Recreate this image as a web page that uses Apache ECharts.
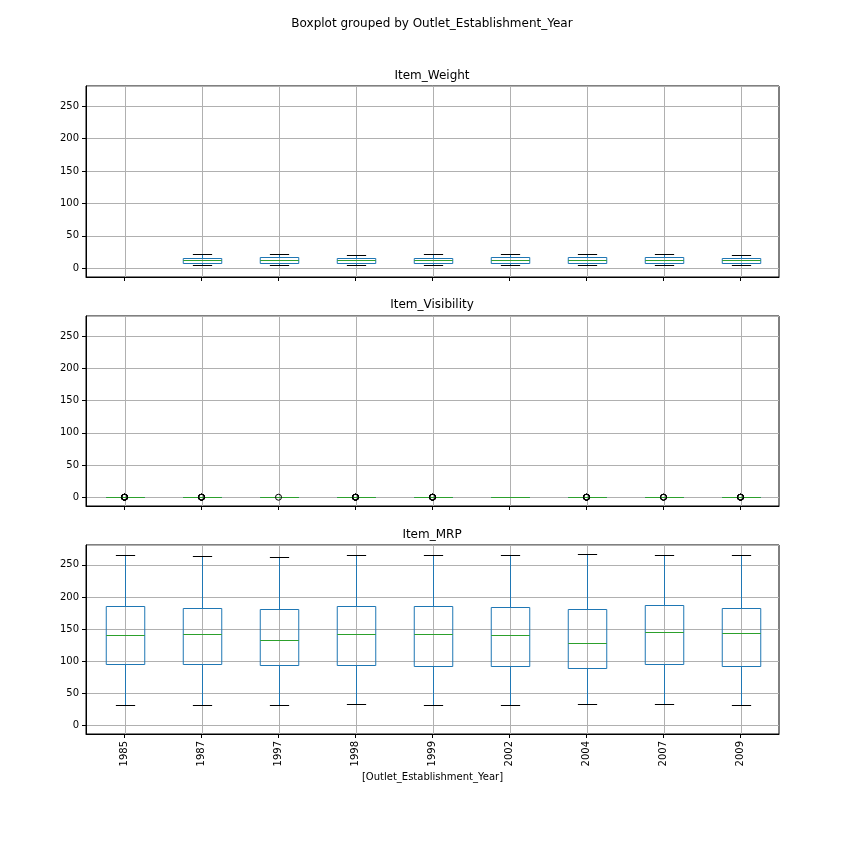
<!DOCTYPE html>
<html>
<head>
<meta charset="utf-8">
<script src="https://cdn.jsdelivr.net/npm/echarts@6/dist/echarts.min.js"></script>
<style>
html,body{margin:0;padding:0;background:#fff;}
#chart{width:864px;height:864px;}
</style>
</head>
<body>
<div id="chart"></div>
<script>
// ---- data ----
const years = ['1985','1987','1997','1998','1999','2002','2004','2007','2009'];
const panelTitles = ['Item_Weight','Item_Visibility','Item_MRP'];
const yTicks = [0,50,100,150,200,250];

// [lowWhisker, Q1, median, Q3, highWhisker] per year (null = no data)
const weightStats = [
  null,
  [4.56, 8.6, 12.5, 16.6, 21.35],
  [4.59, 8.3, 12.6, 17.0, 21.35],
  [4.56, 8.6, 12.3, 16.5, 20.7],
  [4.56, 8.4, 12.4, 16.6, 21.35],
  [4.56, 8.4, 12.6, 17.0, 21.35],
  [4.56, 8.5, 12.7, 17.0, 21.35],
  [4.56, 8.5, 12.6, 17.1, 21.35],
  [4.56, 8.6, 12.3, 16.5, 20.7]
];
const visibilityStats = [
  [0, 0.03, 0.06, 0.11, 0.20],
  [0, 0.027, 0.054, 0.095, 0.19],
  [0, 0.027, 0.054, 0.095, 0.19],
  [0, 0.027, 0.054, 0.095, 0.19],
  [0, 0.027, 0.054, 0.095, 0.19],
  [0, 0.027, 0.054, 0.095, 0.19],
  [0, 0.027, 0.054, 0.095, 0.19],
  [0, 0.027, 0.054, 0.095, 0.19],
  [0, 0.027, 0.054, 0.095, 0.19]
];
const visibilityOutliers = [
  [0.21, 0.23, 0.25, 0.27, 0.29, 0.31, 0.33],
  [0.20, 0.22, 0.25, 0.28, 0.30],
  [0.195],
  [0.20, 0.22, 0.24, 0.26, 0.28, 0.30],
  [0.19, 0.21, 0.24, 0.27, 0.29],
  [],
  [0.20, 0.23, 0.26, 0.29, 0.31],
  [0.19, 0.22, 0.25],
  [0.20, 0.22, 0.24, 0.26, 0.28]
];
const mrpStats = [
  [31.7, 96.1, 140.6, 186.6, 264.8],
  [31.7, 96.1, 142.1, 183.5, 263.3],
  [31.7, 94.6, 132.9, 182.0, 261.7],
  [33.2, 94.6, 142.1, 186.6, 264.8],
  [31.7, 93.1, 142.1, 186.6, 264.8],
  [31.7, 93.1, 140.6, 185.1, 264.8],
  [33.2, 90.0, 128.3, 182.0, 266.4],
  [33.2, 96.1, 145.2, 188.1, 264.8],
  [31.7, 93.1, 143.7, 183.5, 264.8]
];
const yMin = -13.4, yMax = 280.9;

// ---- styling ----
const FONT = 'DejaVu Sans';
const BLUE = '#1f77b4', GREEN = '#2ca02c', GRIDC = '#b0b0b0';
const grids = [
  {left: 86, right: 85, top: 86, height: 191},
  {left: 86, right: 85, top: 316, height: 190},
  {left: 86, right: 85, top: 545, height: 189}
];
const allStats = [weightStats, visibilityStats, mrpStats];

function boxRender(params, api) {
  const i = api.value(0);
  const lo = api.value(1), q1 = api.value(2), md = api.value(3), q3 = api.value(4), hi = api.value(5);
  const band = api.size([1, 0])[0];
  const bw = band * 0.5, cw = bw * 0.5;
  const pLo = api.coord([i, lo]), pQ1 = api.coord([i, q1]), pMd = api.coord([i, md]);
  const pQ3 = api.coord([i, q3]), pHi = api.coord([i, hi]);
  const x = Math.round(pMd[0]) + 0.5;
  const r = v => Math.round(v) + 0.5;
  return {
    type: 'group',
    children: [
      {type: 'line', shape: {x1: x, y1: r(pLo[1]), x2: x, y2: r(pQ1[1])}, style: {stroke: BLUE, lineWidth: 1}},
      {type: 'line', shape: {x1: x, y1: r(pQ3[1]), x2: x, y2: r(pHi[1])}, style: {stroke: BLUE, lineWidth: 1}},
      {type: 'line', shape: {x1: x - cw/2, y1: r(pLo[1]), x2: x + cw/2, y2: r(pLo[1])}, style: {stroke: '#000', lineWidth: 1}},
      {type: 'line', shape: {x1: x - cw/2, y1: r(pHi[1]), x2: x + cw/2, y2: r(pHi[1])}, style: {stroke: '#000', lineWidth: 1}},
      {type: 'rect', shape: {x: x - bw/2, y: r(pQ3[1]), width: bw, height: r(pQ1[1]) - r(pQ3[1])}, style: {stroke: BLUE, fill: null, lineWidth: 1}},
      {type: 'line', shape: {x1: x - bw/2, y1: r(pMd[1]), x2: x + bw/2, y2: r(pMd[1])}, style: {stroke: GREEN, lineWidth: 1}}
    ]
  };
}
function vgridRender(params, api) {
  const i = api.value(0);
  const a = api.coord([i, yMax]), b = api.coord([i, yMin]);
  const x = Math.round(a[0]) + 0.5;
  return {type: 'line', shape: {x1: x, y1: a[1], x2: x, y2: b[1]}, style: {stroke: GRIDC, lineWidth: 1}};
}

const xAxes = [], yAxes = [], series = [], titles = [];
titles.push({text: 'Boxplot grouped by Outlet_Establishment_Year', left: 'center', top: 18, padding: 0,
  textStyle: {fontFamily: FONT, fontSize: 12, fontWeight: 'normal', color: '#000'}});
const titleTops = [70, 299, 529];
for (let g = 0; g < 3; g++) {
  titles.push({text: panelTitles[g], left: 'center', top: titleTops[g], padding: 0,
    textStyle: {fontFamily: FONT, fontSize: 12, fontWeight: 'normal', color: '#000'}});
  xAxes.push({
    type: 'category', gridIndex: g, data: years, boundaryGap: true, position: 'bottom',
    axisLine: {show: true, onZero: false, lineStyle: {color: '#000', width: 1}},
    axisTick: {show: true, alignWithLabel: true, length: 4, lineStyle: {color: '#000'}},
    axisLabel: {show: g === 2, rotate: 90, fontFamily: FONT, fontSize: 10, color: '#000', margin: 7},
    splitLine: {show: false},
    name: g === 2 ? '[Outlet_Establishment_Year]' : '',
    nameLocation: 'middle', nameGap: 38,
    nameTextStyle: {fontFamily: FONT, fontSize: 10, color: '#000'}
  });
  yAxes.push({
    type: 'value', gridIndex: g, min: yMin, max: yMax,
    axisLine: {show: true, onZero: false, lineStyle: {color: '#000', width: 1}},
    axisTick: {show: true, length: 4, lineStyle: {color: '#000'}},
    axisLabel: {fontFamily: FONT, fontSize: 10, color: '#000', margin: 7,
      formatter: v => (yTicks.indexOf(Math.round(v*1000)/1000) >= 0 ? String(v) : ''),
      showMinLabel: false, showMaxLabel: false},
    splitLine: {show: true, lineStyle: {color: GRIDC, width: 1}}
  });
  series.push({
    type: 'custom', xAxisIndex: g, yAxisIndex: g, z: 1, silent: true,
    renderItem: vgridRender, data: years.map((y, i) => [i]), clip: false
  });
  const bd = [];
  allStats[g].forEach((s, i) => { if (s) bd.push([i, s[0], s[1], s[2], s[3], s[4]]); });
  series.push({
    type: 'custom', xAxisIndex: g, yAxisIndex: g, z: 3, silent: true,
    renderItem: boxRender, data: bd,
    encode: {x: 0, y: [1, 2, 3, 4, 5]}
  });
}
const outPts = [];
visibilityOutliers.forEach((arr, i) => arr.forEach(v => outPts.push([i, v])));
series.push({
  type: 'scatter', xAxisIndex: 1, yAxisIndex: 1, z: 4, silent: true,
  symbol: 'circle', symbolSize: 6, data: outPts,
  itemStyle: {color: 'rgba(0,0,0,0)', borderColor: '#000', borderWidth: 1, opacity: 1}
});

const chart = echarts.init(document.getElementById('chart'), null, {renderer: 'canvas'});
chart.setOption({
  animation: false,
  backgroundColor: '#fff',
  title: titles,
  grid: grids.map(gr => Object.assign({show: true, borderColor: '#000', borderWidth: 1, backgroundColor: 'transparent'}, gr)),
  xAxis: xAxes,
  yAxis: yAxes,
  series: series
});
</script>
</body>
</html>
